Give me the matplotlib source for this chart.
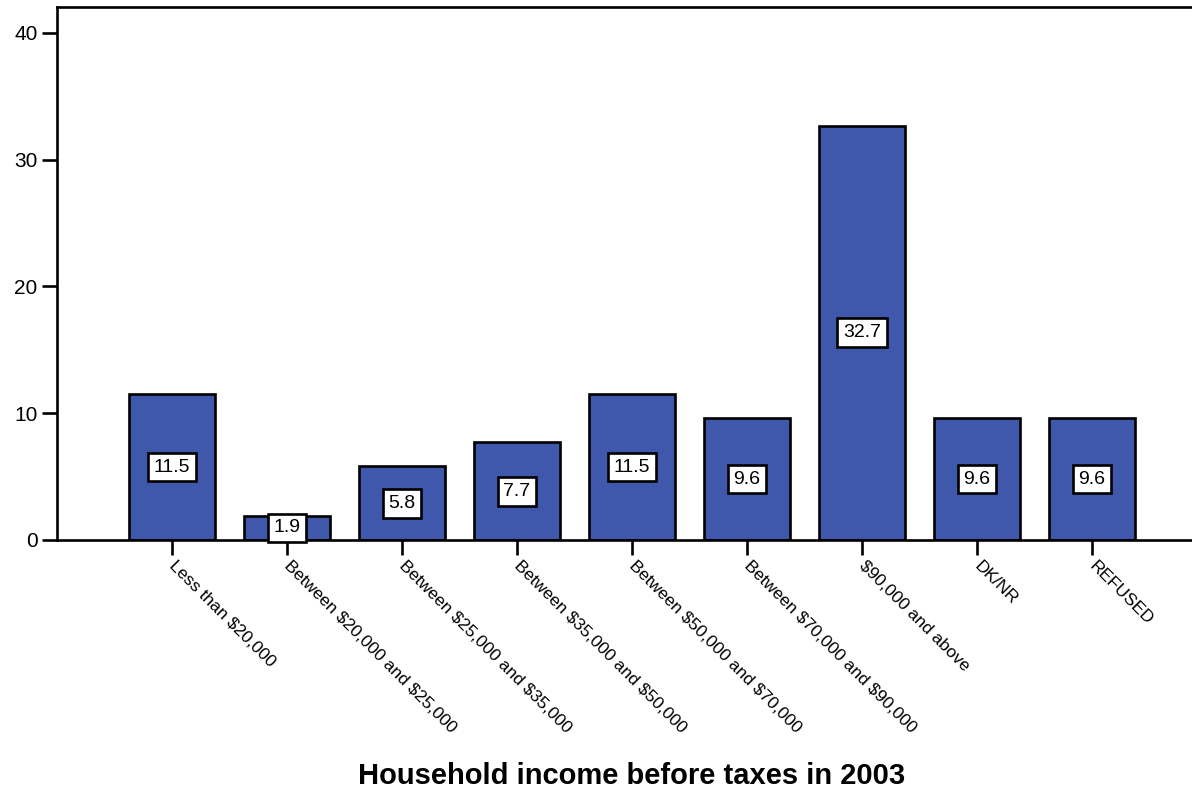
import matplotlib.pyplot as plt

plt.rcParams['font.family'] = ['Liberation Sans', 'DejaVu Sans']
plt.rcParams['text.parse_math'] = False

# income categories and percentages
categories = ["Less than $20,000", "Between $20,000 and $25,000",
              "Between $25,000 and $35,000", "Between $35,000 and $50,000",
              "Between $50,000 and $70,000", "Between $70,000 and $90,000",
              "$90,000 and above", "DK/NR", "REFUSED"]
percents = [11.5, 1.9, 5.8, 7.7, 11.5, 9.6, 32.7, 9.6, 9.6]
y_ticks = [0, 10, 20, 30, 40]

fig = plt.figure(figsize=(11.92, 7.94), dpi=100)
ax = fig.add_axes([0.0478, 0.3199, 0.9648, 0.6713])

x = list(range(len(categories)))
ax.bar(x, percents, width=0.75, color="#3f58ab", edgecolor="black", linewidth=1.9, zorder=2)

# value boxes in the middle of each bar
for xi, v in zip(x, percents):
    ax.text(xi, v / 2, f"{v}", ha="center", va="center", fontsize=14, zorder=3,
            bbox=dict(boxstyle="square,pad=0.3", facecolor="white", edgecolor="black", linewidth=1.9))

ax.set_xlim(-1, 9)
ax.set_ylim(0, 42.05)
ax.set_yticks(y_ticks)
ax.set_yticklabels(y_ticks, fontsize=15)
ax.set_xticks(x)
ax.set_xticklabels(categories, rotation=-45, ha="left", va="center", rotation_mode="anchor", fontsize=12.5)
ax.tick_params(axis="both", direction="out", length=11, width=1.9, color="black")
ax.tick_params(axis="y", pad=3)
ax.tick_params(axis="x", pad=6)

for side in ["left", "top", "bottom"]:
    ax.spines[side].set_linewidth(1.9)
ax.spines["right"].set_visible(False)

fig.text(0.53, 0.0227, "Household income before taxes in 2003", ha="center", va="center",
         fontsize=21, fontweight="bold")

fig.savefig("out.png", dpi=100)
